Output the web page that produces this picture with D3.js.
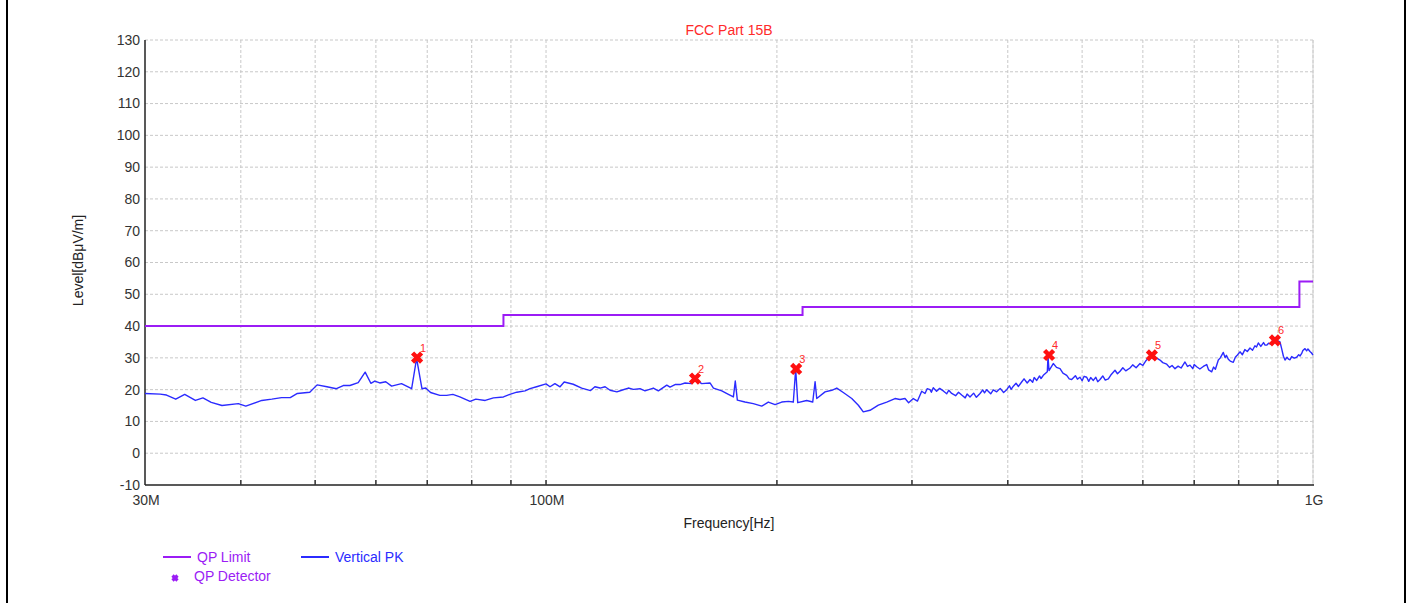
<!DOCTYPE html>
<html>
<head>
<meta charset="utf-8">
<script src="https://cdn.jsdelivr.net/npm/d3@7"></script>
<style>
  body { margin: 0; background: #fff; }
  svg { display: block; font-family: "Liberation Sans", Arial, sans-serif; }
  .grid line { stroke: #c8c8c8; stroke-dasharray: 3,2; }
</style>
</head>
<body>
<svg id="chart"></svg>
<script>
// trace: Vertical PK (frequency in MHz, level in dBuV/m)
const traceFreq = [30.0, 31.4, 32.0, 32.9, 33.8, 34.9, 35.7, 36.6, 37.8, 39.7, 40.6, 42.6, 43.9, 45.2, 46.4, 47.4, 49.2,
  50.3, 51.8, 53.3, 54.4, 55.5, 56.9, 58.1, 59.1, 59.8, 60.7, 61.8, 62.9, 64.8, 66.8, 67.8, 68.9, 69.7, 70.7, 72.7,
  74.2, 75.6, 77.2, 79.6, 81.0, 83.3, 85.4, 88.0, 89.7, 91.6, 93.9, 95.3, 97.2, 100.0, 101.2, 102.7, 104.3, 105.6,
  108.5, 111.3, 114.3, 115.8, 117.6, 119.4, 121.2, 123.7, 125.5, 128.0, 130.0, 132.6, 134.6, 138.0, 140.1, 143.7,
  145.1, 147.3, 149.5, 151.8, 154.9, 156.4, 159.6, 163.6, 165.3, 169.5, 172.9, 175.5, 176.5, 177.6, 181.7, 186.3,
  191.1, 194.9, 198.9, 202.9, 207.0, 210.1, 211.6, 212.9, 218.7, 222.7, 224.3, 225.4, 231.1, 235.8, 239.4, 244.1,
  250.4, 255.4, 259.2, 264.5, 271.2, 278.1, 285.1, 289.4, 293.8, 297, 301.2, 305, 308.9, 312, 314, 316.7, 318, 319.8,
  323, 326, 329.6, 333, 335, 338.0, 342, 345, 348.3, 352, 354, 357.1, 361, 364, 368.0, 371, 373, 375.5, 380, 383,
  386.9, 391, 395, 398.7, 402, 404, 406.7, 410, 413, 417.0, 420, 424, 427.6, 431, 433, 436.3, 440, 442, 445.0, 450.4,
  451.3, 452.7, 458.5, 463, 467.9, 472, 477.4, 481, 484.6, 490, 493, 496.8, 500, 503, 506.9, 510, 513, 517.1, 521,
  524, 527.6, 532, 536, 540.9, 545, 551.9, 556, 560.3, 565, 570, 577.3, 582, 588, 594.9, 600, 606, 613.1, 620, 625,
  631.7, 637, 644.6, 650, 655, 660.8, 667, 673, 680.9, 686, 691.2, 697, 700, 705.3, 712, 719.4, 726.8, 731, 737.8,
  742, 746, 752.6, 757, 763.9, 768, 771, 775.5, 780, 787.2, 792, 797, 803.2, 809, 815, 821, 827.7, 834, 840, 844,
  848.6, 855, 862, 866, 870.2, 875, 880, 887.7, 895, 900, 905.7, 910, 915, 919.4, 925, 929, 933.3, 938, 945, 952.2,
  958, 962, 966.6, 970, 976.3, 981, 985, 991.0, 995, 1000];
const traceLevel = [18.8, 18.6, 18.3, 17.0, 18.5, 16.6, 17.4, 16.0, 15.0, 15.6, 14.8, 16.6, 17.0, 17.5, 17.5, 18.8, 19.2,
  21.5, 20.9, 20.3, 21.3, 21.3, 22.2, 25.5, 22.0, 22.7, 22.1, 22.5, 21.1, 21.9, 20.3, 29.8, 20.3, 20.5, 19.1, 18.2,
  18.2, 18.5, 17.7, 16.3, 17.0, 16.6, 17.4, 17.7, 18.5, 19.2, 19.6, 20.3, 20.9, 21.8, 20.9, 21.9, 20.9, 22.4,
  21.7, 20.5, 19.7, 20.9, 20.5, 20.9, 19.8, 19.3, 19.8, 20.5, 20.1, 20.3, 19.6, 20.5, 19.6, 21.4,
  20.8, 21.6, 21.6, 22.1, 21.9, 23.2, 21.9, 22.1, 20.5, 19.6, 18.5, 17.7, 22.7, 16.7, 16.1, 15.6,
  14.8, 16.1, 15.3, 16.1, 16.3, 16.1, 26.5, 15.9, 16.6, 16.1, 22.5, 17.2, 19.3, 19.8, 20.5, 19.1,
  17.2, 15.1, 13.0, 13.5, 15.1, 16.1, 17.2, 16.9, 17.2, 15.9, 17.2, 16.4, 19.5, 18.8, 20.3, 20.0, 19.2, 20.6,
  19.5, 20.4, 19.6, 18.7, 19.8, 18.8, 18.1, 19.2, 18.3, 17.4, 18.6, 17.7, 18.9, 17.6, 18.8, 19.9, 19.0, 20.0, 18.7, 19.9,
  19.3, 20.4, 19.1, 20.0, 21.2, 20.1, 21.1, 22.0, 21.0, 22.4, 23.4, 22.1, 23.2, 22.3, 23.8, 22.9, 24.3, 23.5, 24.5, 25.6,
  30.5, 26.0, 28.2, 27.0, 26.6, 25.2, 24.5, 23.4, 23.2, 24.4, 23.3, 23.9, 22.8, 24.2, 23.9, 22.6, 23.8, 22.9, 23.9,
  22.5, 23.2, 24.3, 23.0, 23.4, 24.6, 26.1, 25.0, 25.8, 26.9, 25.9, 26.8, 27.8, 26.9, 28.2, 27.6, 29.2, 30.5, 29.6, 30.0,
  29.3, 28.5, 28.0, 27.0, 27.6, 26.6, 27.4, 26.8, 28.7, 27.3, 27.7, 26.6, 27.9, 27.2, 26.5, 27.3, 27.9, 26.2, 25.6,
  27.1, 26.4, 29.3, 30.0, 31.7, 30.1, 30.8, 29.6, 29.0, 28.6, 30.2, 30.9, 31.9, 31.0, 32.6, 32.0, 33.1, 32.4, 33.8, 33.4,
  34.7, 33.6, 34.8, 34.0, 34.0, 34.6, 34.3, 35.5, 34.8, 35.3, 35.0, 33.0, 30.5, 29.3, 30.2, 29.6, 29.4, 30.4, 29.9, 30.2,
  31.0, 30.6, 31.4, 32.3, 32.9, 32.2, 32.8, 32.0, 31.6, 30.9];

// QP limit (FCC Part 15B class B, 3 m)
const limitFreq = [30, 88, 88, 216, 216, 960, 960, 1000];
const limitLevel = [40, 40, 43.5, 43.5, 46, 46, 54, 54];

// QP detector readings
const markerFreq = [67.9, 156.4, 211.9, 452.8, 616.5, 892.0];
const markerLevel = [30.1, 23.5, 26.5, 30.9, 30.8, 35.5];
const markerLabels = ["1", "2", "3", "4", "5", "6"];

const xGridFreq = [40, 50, 60, 70, 80, 90, 100, 200, 300, 400, 500, 600, 700, 800, 900, 1000];
const xLabelFreq = [30, 100, 1000];
const xLabelText = ["30M", "100M", "1G"];
const yTicks = [-10, 0, 10, 20, 30, 40, 50, 60, 70, 80, 90, 100, 110, 120, 130];

const W = 1413, H = 603;
const margin = {top: 40, right: 100, bottom: 118, left: 145};
const width = W - margin.left - margin.right;
const height = H - margin.top - margin.bottom;

const svg = d3.select("#chart").attr("width", W).attr("height", H);

// outer frame (left / right edges)
svg.append("line").attr("x1", 7).attr("x2", 7).attr("y1", 0).attr("y2", H)
  .attr("stroke", "#000").attr("stroke-width", 2);
svg.append("line").attr("x1", 1405).attr("x2", 1405).attr("y1", 0).attr("y2", H)
  .attr("stroke", "#000").attr("stroke-width", 2);

const g = svg.append("g").attr("transform", `translate(${margin.left},${margin.top})`);

const x = d3.scaleLog().domain([30, 1000]).range([0, width]);
const y = d3.scaleLinear().domain([-10, 130]).range([height, 0]);

// grid
g.append("g").attr("class", "grid")
  .selectAll("line").data(xGridFreq).join("line")
  .attr("x1", d => x(d)).attr("x2", d => x(d))
  .attr("y1", 0).attr("y2", height);
g.append("g").attr("class", "grid")
  .selectAll("line").data(yTicks.slice(1)).join("line")
  .attr("x1", 0).attr("x2", width)
  .attr("y1", d => y(d)).attr("y2", d => y(d));

// right border of plot
g.append("line").attr("x1", width).attr("x2", width).attr("y1", 0).attr("y2", height)
  .attr("stroke", "#d0d0d0");

// x axis: inner ticks, only decade labels
const xAxis = g.append("g").attr("transform", `translate(0,${height})`);
xAxis.append("line").attr("x1", 0).attr("x2", width + 1).attr("stroke", "#222").attr("stroke-width", 1.5);
xAxis.selectAll(".tk").data(xGridFreq.slice(0, -1)).join("line")
  .attr("class", "tk")
  .attr("x1", d => x(d)).attr("x2", d => x(d))
  .attr("y1", 0).attr("y2", -5)
  .attr("stroke", "#333").attr("stroke-width", 1.5);
xAxis.selectAll(".lbl").data(xLabelFreq).join("text")
  .attr("class", "lbl")
  .attr("x", d => x(d) + 1)
  .attr("y", 20)
  .attr("text-anchor", "middle")
  .attr("font-size", 14).attr("fill", "#333")
  .text((d, i) => xLabelText[i]);

// y axis
const yAxis = g.append("g");
yAxis.append("line").attr("x1", 0).attr("x2", 0).attr("y1", 0).attr("y2", height)
  .attr("stroke", "#222").attr("stroke-width", 1.5);
yAxis.selectAll("text").data(yTicks).join("text")
  .attr("x", -5)
  .attr("y", d => y(d))
  .attr("dy", "0.35em")
  .attr("text-anchor", "end")
  .attr("font-size", 14).attr("fill", "#333")
  .text(d => d);

// axis titles
svg.append("text")
  .attr("x", margin.left + width / 2).attr("y", 528)
  .attr("text-anchor", "middle").attr("font-size", 14).attr("fill", "#222")
  .text("Frequency[Hz]");
svg.append("text")
  .attr("transform", `translate(83,${margin.top + height / 2 - 2}) rotate(-90)`)
  .attr("text-anchor", "middle").attr("font-size", 14).attr("fill", "#222")
  .text("Level[dBμV/m]");
svg.append("text")
  .attr("x", margin.left + width / 2).attr("y", 35)
  .attr("text-anchor", "middle").attr("font-size", 14).attr("fill", "#ff2a2a")
  .text("FCC Part 15B");

// limit line
const limitColor = "#9b1cf5";
const traceColor = "#2b2bff";
const limitPts = limitFreq.map((f, i) => [f, limitLevel[i]]);
g.append("path").datum(limitPts)
  .attr("fill", "none").attr("stroke", limitColor).attr("stroke-width", 2)
  .attr("d", d3.line().x(d => x(d[0])).y(d => y(d[1])));

// trace
const tracePts = traceFreq.map((f, i) => [f, traceLevel[i]]);
g.append("path").datum(tracePts)
  .attr("fill", "none").attr("stroke", traceColor).attr("stroke-width", 1.4)
  .attr("stroke-linejoin", "round")
  .attr("d", d3.line().x(d => x(d[0])).y(d => y(d[1])));

// QP markers
const markers = markerFreq.map((f, i) => ({f, v: markerLevel[i], label: markerLabels[i]}));
const mg = g.selectAll(".marker").data(markers).join("g")
  .attr("class", "marker")
  .attr("transform", d => `translate(${x(d.f)},${y(d.v)})`);
mg.append("path")
  .attr("d", d3.symbol(d3.symbolX, 55)())
  .attr("stroke", "#ff1010").attr("stroke-width", 4.5).attr("fill", "none");
mg.append("text")
  .attr("x", 3).attr("y", -6)
  .attr("font-size", 11).attr("fill", "#ff2a2a")
  .text(d => d.label);

// legend
const lg = svg.append("g");
lg.append("line").attr("x1", 163).attr("x2", 191).attr("y1", 557).attr("y2", 557)
  .attr("stroke", limitColor).attr("stroke-width", 2);
lg.append("text").attr("x", 197).attr("y", 562).attr("font-size", 14).attr("fill", limitColor)
  .text("QP Limit");
lg.append("line").attr("x1", 301).attr("x2", 329).attr("y1", 557).attr("y2", 557)
  .attr("stroke", traceColor).attr("stroke-width", 2);
lg.append("text").attr("x", 335).attr("y", 562).attr("font-size", 14).attr("fill", traceColor)
  .text("Vertical PK");
lg.append("path").attr("transform", "translate(175,578)")
  .attr("d", d3.symbol(d3.symbolX, 18)())
  .attr("stroke", limitColor).attr("stroke-width", 3.2).attr("fill", "none");
lg.append("text").attr("x", 194).attr("y", 581).attr("font-size", 14).attr("fill", limitColor)
  .text("QP Detector");
</script>
</body>
</html>
